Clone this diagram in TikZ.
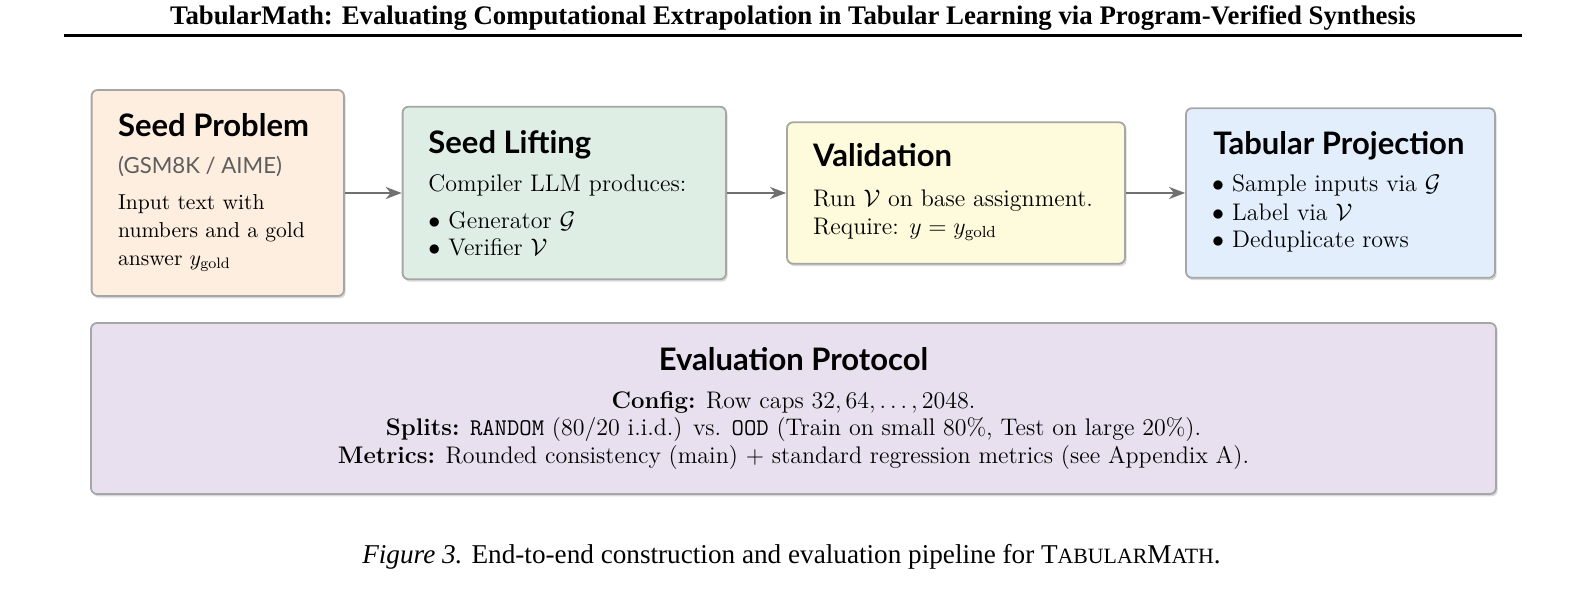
\documentclass[tikz,border=0pt]{standalone}
\usepackage{fontspec}
\newfontfamily\latofont{Lato}
\newfontfamily\timesfont{Liberation Serif}
\usetikzlibrary{arrows.meta,shadows}
\definecolor{cPeach}{HTML}{FDEEE0}
\definecolor{cGreen}{HTML}{DFEEE5}
\definecolor{cYellow}{HTML}{FEFADC}
\definecolor{cBlue}{HTML}{E3EEFC}
\definecolor{cLav}{HTML}{E8E0EE}
\definecolor{cBorder}{HTML}{A6A6A6}
\definecolor{cArrow}{HTML}{707070}
\definecolor{cSub}{HTML}{5E5E5E}
\newcommand\fakesc[1]{{\fontsize{10.9}{12}\selectfont #1}}
\newcommand\bul{\makebox[10pt][l]{$\bullet$}}
\begin{document}
\begin{tikzpicture}[x=0.5pt,y=-0.5pt,
  box/.style={draw=cBorder, line width=0.9pt, rounded corners=3pt, inner sep=0pt,
    drop shadow={shadow xshift=0.8pt, shadow yshift=-1.2pt, opacity=0.15, fill=black}},
  hd/.style={anchor=base west, inner sep=0pt, font=\latofont\bfseries\fontsize{15.5}{18}\selectfont},
  hdc/.style={anchor=base, inner sep=0pt, font=\latofont\bfseries\fontsize{15.5}{18}\selectfont},
  subt/.style={anchor=base west, inner sep=0pt, text=cSub, font=\latofont\fontsize{11.1}{13}\selectfont},
  txtone/.style={anchor=base west, inner sep=0pt, font=\fontsize{10.8}{13}\selectfont},
  txt/.style={anchor=base west, inner sep=0pt, font=\fontsize{12}{14}\selectfont},
  txtc/.style={anchor=base, inner sep=0pt, font=\fontsize{12}{14}\selectfont},
  arr/.style={draw=cArrow, line width=1.1pt, -{Stealth[length=8pt,width=6pt,inset=2.5pt]}}
]
\useasboundingbox (0,0) rectangle (1590,589);

% header
\node[anchor=base, inner sep=0pt, font=\timesfont\bfseries\fontsize{13.4}{16}\selectfont] (title) at (793,25)
  {TabularMath: Evaluating Computational Extrapolation in Tabular Learning via Program-Verified Synthesis};
\draw[line width=1.4pt] (64,35.5) -- (1522,35.5);

% boxes
\node[box, fill=cPeach,  minimum width=126.2pt, minimum height=103pt]  (b1) at (217.8,193) {};
\node[box, fill=cGreen,  minimum width=161.7pt, minimum height=86.3pt] (b2) at (564.3,193) {};
\node[box, fill=cYellow, minimum width=169pt,   minimum height=70.7pt] (b3) at (956,193) {};
\node[box, fill=cBlue,   minimum width=154.5pt, minimum height=84.8pt] (b4) at (1340.5,193) {};
\node[box, fill=cLav,    minimum width=702.5pt, minimum height=85.5pt] (ev) at (793.5,408.5) {};

% box 1
\node[hd]     (b1h) at (117.7,136.7) {Seed Problem};
\node[subt]   (b1s) at (117.7,173) {(GSM8K / AIME)};
\node[txtone] (b1a) at (117.7,209) {Input text with};
\node[txtone] (b1b) at (117.7,237) {numbers and a gold};
\node[txtone] (b1c) at (117.7,265) {answer $y_{\mathrm{gold}}$};

% box 2
\node[hd]  (b2h) at (428,153.3) {Seed Lifting};
\node[txt] (b2a) at (428,191.7) {Compiler LLM produces:};
\node[txt] (b2b) at (428,228.3) {\bul Generator $\mathcal{G}$};
\node[txt] (b2c) at (428,255) {\bul Verifier $\mathcal{V}$};

% box 3
\node[hd]  (b3h) at (812.7,166.7) {Validation};
\node[txt] (b3a) at (812.7,206.7) {Run $\mathcal{V}$ on base assignment.};
\node[txt] (b3b) at (812.7,234) {Require: $y = y_{\mathrm{gold}}$};

% box 4
\node[hd]  (b4h) at (1213,154.3) {Tabular Projection};
\node[txt] (b4a) at (1211.7,191.7) {\bul Sample inputs via $\mathcal{G}$};
\node[txt] (b4b) at (1211.7,220) {\bul Label via $\mathcal{V}$};
\node[txt] (b4c) at (1211.7,247.7) {\bul Deduplicate rows};

% evaluation protocol
\node[hdc]  (evh) at (793.5,370) {Evaluation Protocol};
\node[txtc] (eva) at (793.5,408) {\textbf{Config:} Row caps $32, 64, \ldots, 2048$.};
\node[txtc] (evb) at (793.5,435) {\textbf{Splits:} \texttt{RANDOM} (80/20 i.i.d.) vs. \texttt{OOD} (Train on small 80\%, Test on large 20\%).};
\node[txtc] (evc) at (793.5,463) {\textbf{Metrics:} Rounded consistency (main) + standard regression metrics (see Appendix A).};

% arrows
\draw[arr] (b1) -- (b2);
\draw[arr] (b2) -- (b3);
\draw[arr] (b3) -- (b4);

% caption
\node[anchor=base, inner sep=0pt, font=\timesfont\fontsize{13.6}{16}\selectfont] (cap) at (791.5,563)
  {\textit{Figure 3.} End-to-end construction and evaluation pipeline for T\fakesc{ABULAR}M\fakesc{ATH}.};
\end{tikzpicture}
\end{document}
